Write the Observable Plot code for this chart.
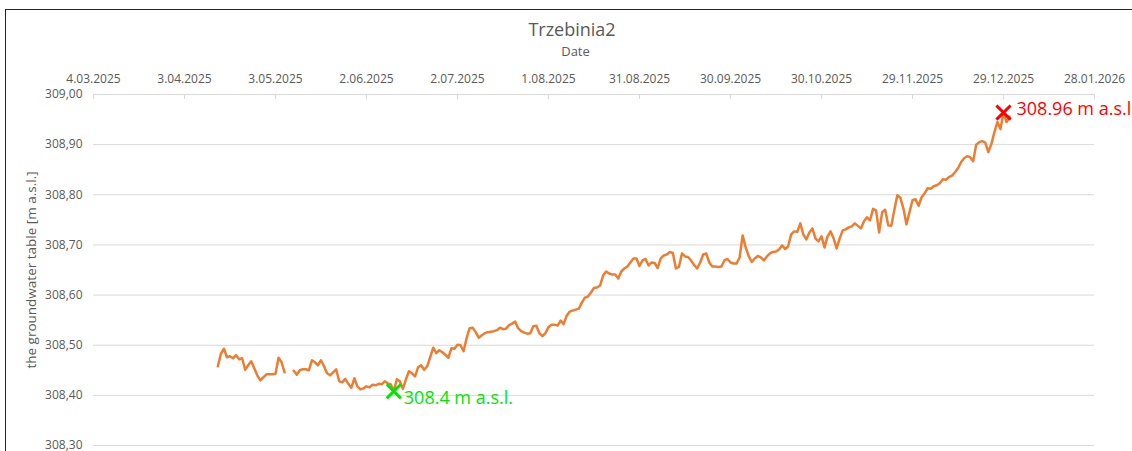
<!DOCTYPE html>
<html>
<head>
<meta charset="utf-8">
<script src="https://cdn.jsdelivr.net/npm/d3@7"></script>
<script src="https://cdn.jsdelivr.net/npm/@observablehq/plot@0.6"></script>
<style>
  html, body { margin: 0; padding: 0; background: #fff; overflow: hidden; width: 1132px; height: 451px; }
  #wrap { position: relative; width: 1132px; height: 451px; overflow: hidden; font-family: "Open Sans", sans-serif; }
  #border { position: absolute; left: 5px; top: 9px; width: 1140px; height: 470px; border: 1px solid #262626; box-sizing: border-box; }
  #title { position: absolute; left: 0; width: 1144px; top: 20px; text-align: center; font-size: 18px; line-height: 18px; color: #595959; }
  #sub { position: absolute; left: 0; width: 1151px; top: 45px; text-align: center; font-size: 13px; line-height: 13px; color: #595959; }
  #chart { position: absolute; left: 0; top: 0; }
</style>
</head>
<body>
<div id="wrap">
  <div id="border"></div>
  <div id="chart"></div>
  <div id="title">Trzebinia2</div>
  <div id="sub">Date</div>
</div>
<script>
// Daily groundwater level readings [m a.s.l.], series starts 14.04.2025
const firstDay = "2025-04-14";
const apr = [308.458, 308.483, 308.493, 308.476, 308.478, 308.474, 308.480, 308.472, 308.474, 308.451,
             308.460, 308.468, 308.454, 308.440, 308.430, 308.436, 308.442];
const may = [308.442, 308.442, 308.443, 308.475, 308.466, 308.446, null, null, 308.449, 308.441,
             308.450, 308.452, 308.452, 308.450, 308.470, 308.466, 308.460, 308.470, 308.458, 308.444,
             308.440, 308.446, 308.452, 308.428, 308.426, 308.433, 308.423, 308.415, 308.434, 308.418, 308.412];
const jun = [308.414, 308.418, 308.416, 308.421, 308.420, 308.423, 308.422, 308.428, 308.424, 308.422,
             308.408, 308.432, 308.428, 308.413, 308.432, 308.448, 308.444, 308.438, 308.456, 308.460,
             308.451, 308.458, 308.476, 308.495, 308.484, 308.490, 308.486, 308.481, 308.475, 308.494];
const jul = [308.493, 308.501, 308.500, 308.488, 308.514, 308.534, 308.535, 308.526, 308.515, 308.520,
             308.524, 308.526, 308.527, 308.528, 308.530, 308.535, 308.532, 308.533, 308.540, 308.543,
             308.547, 308.534, 308.528, 308.525, 308.523, 308.524, 308.538, 308.539, 308.524, 308.518, 308.524];
const aug = [308.536, 308.541, 308.541, 308.539, 308.549, 308.542, 308.559, 308.567, 308.569, 308.571,
             308.573, 308.585, 308.595, 308.597, 308.605, 308.614, 308.615, 308.619, 308.639, 308.647,
             308.643, 308.641, 308.641, 308.633, 308.647, 308.653, 308.657, 308.665, 308.673, 308.673, 308.658];
const sep = [308.669, 308.672, 308.659, 308.665, 308.664, 308.654, 308.673, 308.679, 308.681, 308.686,
             308.684, 308.653, 308.656, 308.683, 308.677, 308.676, 308.669, 308.660, 308.653, 308.665,
             308.681, 308.683, 308.665, 308.657, 308.657, 308.656, 308.657, 308.669, 308.672, 308.665];
const oct = [308.663, 308.663, 308.675, 308.719, 308.695, 308.678, 308.666, 308.673, 308.678, 308.675,
             308.669, 308.677, 308.683, 308.686, 308.687, 308.691, 308.699, 308.692, 308.697, 308.721,
             308.727, 308.726, 308.743, 308.721, 308.711, 308.725, 308.733, 308.713, 308.707, 308.717, 308.695];
const nov = [308.717, 308.727, 308.713, 308.693, 308.713, 308.729, 308.731, 308.735, 308.737, 308.743,
             308.738, 308.733, 308.747, 308.755, 308.749, 308.772, 308.769, 308.725, 308.765, 308.770,
             308.739, 308.738, 308.769, 308.799, 308.794, 308.773, 308.741, 308.765, 308.789, 308.791];
const dec = [308.778, 308.795, 308.803, 308.813, 308.812, 308.817, 308.819, 308.823, 308.831, 308.830,
             308.835, 308.838, 308.845, 308.853, 308.865, 308.873, 308.877, 308.875, 308.867, 308.900,
             308.905, 308.907, 308.904, 308.885, 308.901, 308.925, 308.945, 308.931, 308.964, 308.945, 308.956];

// Axis ticks
const xTickLabels = ["2025-03-04", "2025-04-03", "2025-05-03", "2025-06-02", "2025-07-02", "2025-08-01",
                     "2025-08-31", "2025-09-30", "2025-10-30", "2025-11-29", "2025-12-29", "2026-01-28"];
const yTickValues = [308.3, 308.4, 308.5, 308.6, 308.7, 308.8, 308.9, 309.0];
// Annotation texts (minimum, maximum)
const minLabel = "308.4 m a.s.l.";
const maxLabel = "308.96 m a.s.l.";

const levels = [...apr, ...may, ...jun, ...jul, ...aug, ...sep, ...oct, ...nov, ...dec];
const start = new Date(firstDay);
const data = levels.map((v, i) => ({ date: d3.utcDay.offset(start, i), level: v }));
const xTicks = xTickLabels.map(s => new Date(s));
const valid = data.filter(d => d.level != null);
const minPt = d3.least(valid, d => d.level);
const maxPt = d3.greatest(valid, d => d.level);

const W = 1132, H = 451, mt = 94, mb = 6, ml = 93, mr = 38;
const fmtX = d3.utcFormat("%-d.%m.%Y");
const fmtY = v => d3.format(".2f")(v).replace(".", ",");

const chart = Plot.plot({
  width: W, height: H,
  marginTop: mt, marginBottom: mb, marginLeft: ml, marginRight: mr,
  style: { fontFamily: "Open Sans, sans-serif", fontSize: "12px", color: "#595959", background: "transparent", overflow: "visible" },
  x: { type: "utc", domain: [xTicks[0], xTicks[xTicks.length - 1]] },
  y: { domain: [308.3, 309.0] },
  marks: [
    Plot.gridY(yTickValues, { stroke: "#d9d9d9", strokeOpacity: 1, strokeWidth: 1 }),
    Plot.tickX(xTicks, { x: d => d, stroke: "#d9d9d9", strokeWidth: 1, insetBottom: H - mt - mb - 5 }),
    Plot.axisX(xTicks, { anchor: "top", tickSize: 0, tickPadding: 12, tickFormat: fmtX, label: null, fill: "#595959", fontSize: 12 }),
    Plot.axisY(yTickValues, { anchor: "left", tickSize: 0, tickPadding: 11, tickFormat: fmtY, label: null, fill: "#595959", fontSize: 12 }),
    Plot.text(["the groundwater table [m a.s.l.]"], { frameAnchor: "left", textAnchor: "middle", lineAnchor: "middle", rotate: -90, dx: -62, fill: "#595959", fontSize: 13.5 }),
    Plot.lineY(data, { x: "date", y: "level", stroke: "#ED7D31", strokeWidth: 2.5, strokeLinejoin: "round", strokeLinecap: "round" }),
    Plot.dot([minPt], { x: "date", y: "level", symbol: "times", r: 6.5, stroke: "#00E600", strokeWidth: 3 }),
    Plot.dot([maxPt], { x: "date", y: "level", symbol: "times", r: 6.5, stroke: "#FF0000", strokeWidth: 3 }),
    Plot.text([minPt], { x: "date", y: "level", text: () => minLabel, textAnchor: "start", dx: 10, dy: 7, fill: "#00E600", fontSize: 18 }),
    Plot.text([maxPt], { x: "date", y: "level", text: () => maxLabel, textAnchor: "start", dx: 13, dy: -3, fill: "#FF0000", fontSize: 18 })
  ]
});
document.getElementById("chart").appendChild(chart);
</script>
</body>
</html>
